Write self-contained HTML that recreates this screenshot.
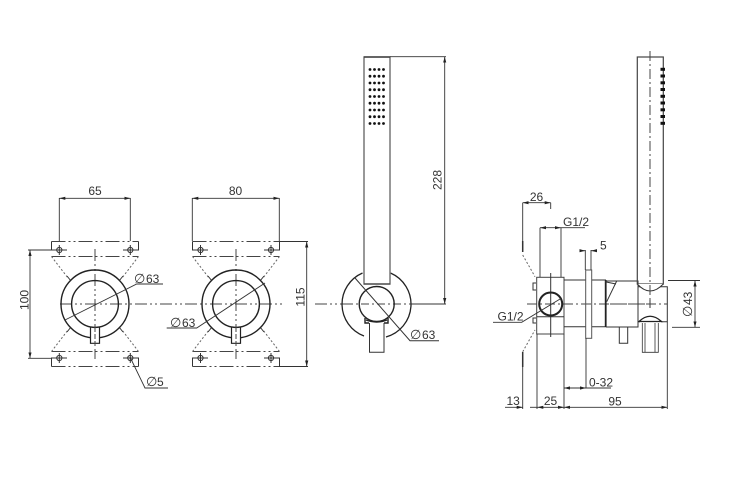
<!DOCTYPE html>
<html><head><meta charset="utf-8"><style>
html,body{margin:0;padding:0;background:#fff}
svg{display:block;filter:blur(.3px)}
text{font-family:"Liberation Sans",sans-serif;font-size:12px;fill:#333}
.t{stroke:#222;stroke-width:1.4;fill:none}
.m{stroke:#333;stroke-width:1;fill:none}
.d{stroke:#333;stroke-width:.9;fill:none}
.c{stroke:#444;stroke-width:1;fill:none;stroke-dasharray:12 3 2 3 2 3}
.h{stroke:#444;stroke-width:1;fill:none;stroke-dasharray:14 3 2 3 2 3}
.p{stroke:#666;stroke-width:1;fill:none;stroke-dasharray:2 2}
</style></head><body>
<svg width="750" height="484" viewBox="0 0 750 484" xmlns="http://www.w3.org/2000/svg">
<defs>
<marker id="a" markerUnits="userSpaceOnUse" markerWidth="7" markerHeight="4" refX="6" refY="2" orient="auto-start-reverse"><path d="M0 .4L6 2L0 3.6z" fill="#222"/></marker>
<g id="v">
<path class="h" d="M-43.5 -62.5H43.5M-43.5 -47.5H43.5M-43.5 47.5H43.5M-43.5 62.5H43.5"/>
<path class="m" d="M-43.5 -62.5V-54H-28M43.5 -62.5V-54H28M-43.5 62.5V54H-28M43.5 62.5V54H28"/>
<path class="p" d="M-43.5 -47.5L-27 -26M43.5 -47.5L27 -26M-43.5 47.5L-27 26M43.5 47.5L27 26"/>
<path class="m" d="M-28 -28L-24 -23M28 -28L24 -23M-28 28L-24 23M28 28L24 23"/>
<path class="c" d="M0 -55V55"/>
<circle class="t" r="34"/>
<path d="M-4.5 23.5V39.3H4.5V23.5" fill="#fff" stroke="#222" stroke-width="1.2"/>
<circle class="t" r="23.4"/>
<path class="c" d="M0 23V41" style="stroke-dasharray:5 2"/>
</g>
<g id="holes"><circle class="m" r="2.6"/><path class="m" d="M0 -5V5"/></g>
</defs>

<path class="c" d="M60 304H283"/>
<path class="c" d="M315 304H345"/>
<use href="#v" x="95" y="304"/>
<use href="#v" x="236" y="304"/>
<use href="#holes" x="59.3" y="250"/><use href="#holes" x="130.3" y="250"/>
<use href="#holes" x="59.3" y="358"/><use href="#holes" x="130.3" y="358"/>
<use href="#holes" x="200.5" y="250"/><use href="#holes" x="271" y="250"/>
<use href="#holes" x="200.5" y="358"/><use href="#holes" x="271" y="358"/>

<!-- dims left -->
<path class="d" d="M59.3 198V241M130.3 198V241M192.3 198V241M279.3 198V241"/>
<line class="d" x1="59.3" y1="198.3" x2="130.3" y2="198.3" marker-start="url(#a)" marker-end="url(#a)"/>
<line class="d" x1="192.3" y1="198.3" x2="279.3" y2="198.3" marker-start="url(#a)" marker-end="url(#a)"/>
<text x="95" y="195" text-anchor="middle">65</text>
<text x="235.5" y="195" text-anchor="middle">80</text>
<path class="d" d="M28 250H52M28 358.3H52M279 241.5H308M279 366.5H308"/>
<line class="d" x1="30" y1="250" x2="30" y2="358.3" marker-start="url(#a)" marker-end="url(#a)"/>
<line class="d" x1="306.7" y1="241.5" x2="306.7" y2="366.5" marker-start="url(#a)" marker-end="url(#a)"/>
<text transform="translate(28.5 300) rotate(-90)" text-anchor="middle">100</text>
<text transform="translate(304.5 297) rotate(-90)" text-anchor="middle">115</text>

<!-- leaders -->
<path class="d" d="M65 320L136.7 284H163"/>
<text x="134" y="283" style="font-size:13px">∅</text><text x="146" y="283">63</text>
<path class="d" d="M265 283L196.7 328H166.7"/>
<text x="170" y="327" style="font-size:13px">∅</text><text x="182" y="327">63</text>
<path class="d" d="M130 357L145 388H168"/>
<text x="146" y="386" style="font-size:13px">∅</text><text x="157" y="386">5</text>

<!-- hand shower front -->
<path class="t" d="M362.5 273A34 34 0 0 0 364 336M390.5 273A34 34 0 0 1 386 337" style="stroke-width:1.3"/>
<path class="c" d="M315 304H410" style="stroke-dasharray:8 3 2 3;display:none"/>
<path class="c" d="M345 304H410" style="stroke-dasharray:8 3 2 3"/>
<rect x="364" y="57" width="26" height="227" fill="none" stroke="#777" stroke-width="1.5"/>
<path d="M364 57H390" stroke="#333" stroke-width="1.2"/>
<path class="m" d="M364 284H390"/>
<circle class="t" cx="376.7" cy="304" r="17.5"/>
<path d="M365 318V323H369M388 318V323H384M366 320Q376.7 324 387 320" fill="none" stroke="#222" stroke-width="1.4"/>
<path class="m" d="M369.5 323V352.3H384V323"/>
<path class="m" d="M355 278L410 340.7H439"/>
<text x="410" y="339" style="font-size:13px">∅</text><text x="422" y="339">63</text>
<g fill="#111">
<circle cx="370" cy="69.5" r="1.4"/><circle cx="374.5" cy="69.5" r="1.4"/><circle cx="379" cy="69.5" r="1.4"/><circle cx="383.5" cy="69.5" r="1.4"/>
<circle cx="370" cy="76.2" r="1.4"/><circle cx="374.5" cy="76.2" r="1.4"/><circle cx="379" cy="76.2" r="1.4"/><circle cx="383.5" cy="76.2" r="1.4"/>
<circle cx="370" cy="83" r="1.4"/><circle cx="374.5" cy="83" r="1.4"/><circle cx="379" cy="83" r="1.4"/><circle cx="383.5" cy="83" r="1.4"/>
<circle cx="370" cy="89.7" r="1.4"/><circle cx="374.5" cy="89.7" r="1.4"/><circle cx="379" cy="89.7" r="1.4"/><circle cx="383.5" cy="89.7" r="1.4"/>
<circle cx="370" cy="96.5" r="1.4"/><circle cx="374.5" cy="96.5" r="1.4"/><circle cx="379" cy="96.5" r="1.4"/><circle cx="383.5" cy="96.5" r="1.4"/>
<circle cx="370" cy="103.2" r="1.4"/><circle cx="374.5" cy="103.2" r="1.4"/><circle cx="379" cy="103.2" r="1.4"/><circle cx="383.5" cy="103.2" r="1.4"/>
<circle cx="370" cy="110" r="1.4"/><circle cx="374.5" cy="110" r="1.4"/><circle cx="379" cy="110" r="1.4"/><circle cx="383.5" cy="110" r="1.4"/>
<circle cx="370" cy="116.7" r="1.4"/><circle cx="374.5" cy="116.7" r="1.4"/><circle cx="379" cy="116.7" r="1.4"/><circle cx="383.5" cy="116.7" r="1.4"/>
<circle cx="370" cy="123.5" r="1.4"/><circle cx="374.5" cy="123.5" r="1.4"/><circle cx="379" cy="123.5" r="1.4"/><circle cx="383.5" cy="123.5" r="1.4"/>
</g>
<path class="d" d="M390 56.7H446"/>
<path class="d" d="M410 304H446"/>
<line class="d" x1="444.7" y1="56.7" x2="444.7" y2="304" marker-start="url(#a)" marker-end="url(#a)"/>
<text transform="translate(441.5 180) rotate(-90)" text-anchor="middle">228</text>

<!-- side view -->
<path class="c" d="M527 304H645" style="stroke-dasharray:10 3 2 3"/>
<rect x="536.7" y="277.3" width="27.3" height="56.7" fill="none" stroke="#444" stroke-width="1"/>
<path class="m" d="M536.7 316.7H564"/>
<path class="m" d="M536 283H533V290H536M536 318H533V323H536"/>
<path class="m" d="M550.7 273V337"/>
<circle class="t" cx="550.7" cy="304" r="11.5" style="stroke-width:2"/>
<path class="m" d="M564 280H586M564 326.7H586M591.7 280H606M591.7 326.7H606"/>
<rect x="585.7" y="270" width="6" height="68.3" fill="none" stroke="#555" stroke-width="1"/>
<path class="t" d="M605.7 280V327" style="stroke-width:1.8"/>
<path class="m" d="M606 281H638V327H606M606.7 301.7L616.7 281M605 281.7L616 284"/>
<path class="m" d="M638 286.7H667.3V321.7H661M638 321.7H640"/>
<rect x="637.3" y="57" width="26" height="227" fill="none" stroke="#444" stroke-width="1.2"/>
<path d="M637.3 284Q650 298 663.3 284" fill="#fff" stroke="#333" stroke-width="1"/>
<path d="M639 321.5Q650 311 661.5 321.5Z" fill="#fff" stroke="#222" stroke-width="1.3"/>
<path class="m" d="M642.3 323V352.3H658.3V323M645 323V352M655 323V352" style="stroke-width:.8"/>
<path class="m" d="M619.3 327V343.3H627.7V327"/>
<path class="c" d="M650 51V300" style="stroke-dasharray:10 3 2 3"/>
<path d="M650 300V308" class="m"/>
<path class="c" d="M610 304H667" style="stroke-dasharray:10 3 2 3"/>
<g fill="#111">
<rect x="660.5" y="67.8" width="4.5" height="3"/><rect x="660.5" y="74.5" width="4.5" height="3"/><rect x="660.5" y="81.3" width="4.5" height="3"/><rect x="660.5" y="88" width="4.5" height="3"/><rect x="660.5" y="94.8" width="4.5" height="3"/><rect x="660.5" y="101.5" width="4.5" height="3"/><rect x="660.5" y="108.3" width="4.5" height="3"/><rect x="660.5" y="115" width="4.5" height="3"/><rect x="660.5" y="121.8" width="4.5" height="3"/>
</g>

<!-- side dims -->
<path class="d" d="M522.7 202.7V241M550.7 202.7V209M540 227.7V277M561 227.7V277M522.7 367V409M537 334V409M564 334V409M585.3 250V270M591 250V270M667.3 322V409"/>
<path d="M522.7 241V252M522.7 352V367" stroke="#333" stroke-width="1.5"/>
<path class="p" d="M522.7 255L535 276.7M522.7 351.7L535 330"/>
<line class="d" x1="522.7" y1="202.7" x2="550.7" y2="202.7" marker-start="url(#a)" marker-end="url(#a)"/>
<text x="536.5" y="201" text-anchor="middle">26</text>
<path class="d" d="M561 227.7H585"/>
<line class="d" x1="540" y1="227.7" x2="561" y2="227.7" marker-start="url(#a)" marker-end="url(#a)"/>
<text x="563" y="226">G1/2</text>
<line class="d" x1="580" y1="250.7" x2="585.3" y2="250.7" marker-end="url(#a)"/>
<line class="d" x1="596.7" y1="250.7" x2="591" y2="250.7" marker-end="url(#a)"/>
<text x="600" y="249.5">5</text>
<path class="d" d="M493 322.3H521.7L561.7 298"/>
<text x="497.5" y="320.5">G1/2</text>
<line class="d" x1="537.3" y1="407.3" x2="564" y2="407.3" marker-start="url(#a)" marker-end="url(#a)"/>
<line class="d" x1="505" y1="407.3" x2="522.7" y2="407.3" marker-end="url(#a)"/>
<path class="d" d="M530 407.3H537.3"/>
<text x="506.5" y="405">13</text>
<text x="550.5" y="405" text-anchor="middle">25</text>
<line class="d" x1="564" y1="407.3" x2="667.3" y2="407.3" marker-start="url(#a)" marker-end="url(#a)"/>
<text x="615" y="405.5" text-anchor="middle">95</text>
<line class="d" x1="564" y1="388" x2="586" y2="388" marker-start="url(#a)" marker-end="url(#a)"/>
<path class="d" d="M586 388H611M586 338V388"/>
<text x="589" y="386.5">0-32</text>
<path class="d" d="M668 280.5H700M672 327.3H700"/>
<line class="d" x1="695" y1="280.5" x2="695" y2="327.3" marker-start="url(#a)" marker-end="url(#a)"/>
<text transform="translate(692 317) rotate(-90)" style="font-size:13px">∅</text>
<text transform="translate(692 305) rotate(-90)">43</text>
</svg>
</body></html>
